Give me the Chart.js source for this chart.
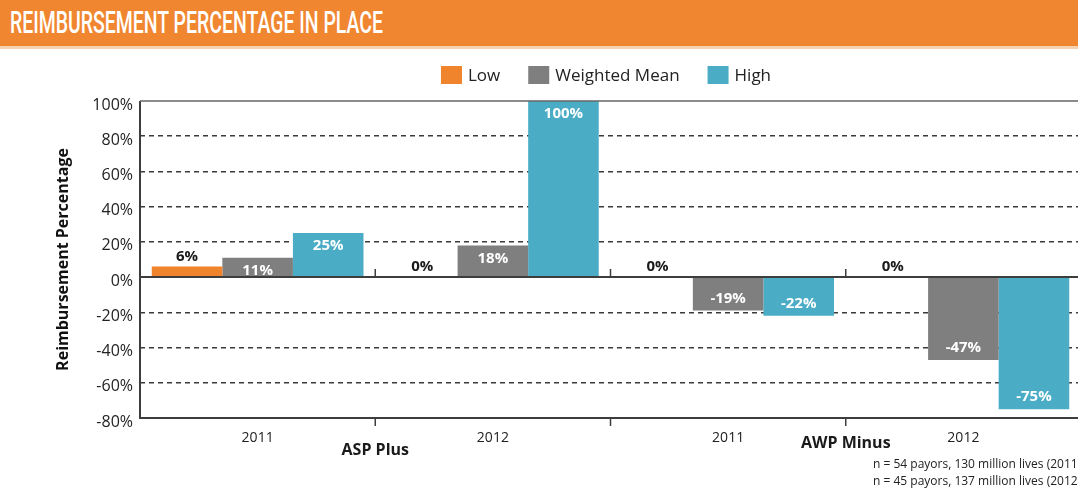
<!DOCTYPE html>
<html><head><meta charset="utf-8">
<script src="https://cdn.jsdelivr.net/npm/chart.js@4.4.1/dist/chart.umd.min.js"></script>
<style>
html,body{margin:0;padding:0;background:#fff;overflow:hidden;width:1078px;height:491px;}
#banner{position:absolute;left:0;top:0;width:1078px;height:46px;background:#F0862F;border-bottom:3px solid #F7D2AE;}
#banner span{position:absolute;left:10px;top:5px;font-family:Roboto,"DejaVu Sans",sans-serif;font-weight:500;font-size:31px;line-height:36px;color:#fff;white-space:nowrap;transform-origin:0 0;}
#wrap{position:absolute;left:0;top:49px;width:1100px;height:442px;}
#note{position:absolute;left:873px;top:455px;font-family:"Open Sans",sans-serif;font-size:12px;line-height:17px;color:#222;white-space:nowrap;}
</style></head>
<body>
<div id="banner"><span id="ttl">REIMBURSEMENT PERCENTAGE IN PLACE</span></div>
<div id="wrap"><canvas id="c"></canvas></div>
<div id="note">n = 54 payors, 130 million lives (2011)<br>n = 45 payors, 137 million lives (2012)</div>
<script>
(function(){ const t = document.getElementById('ttl'); const w = t.getBoundingClientRect().width; if (w > 0) t.style.transform = 'scaleX(' + (373 / w) + ')'; })();
const FONT = '"Open Sans","DejaVu Sans",sans-serif';
const categories = ['2011', '2012', '2011', '2012'];
const groupLabels = ['ASP Plus', 'AWP Minus'];
const seriesNames = ['Low', 'Weighted Mean', 'High'];
const lowValues = [6, 0, 0, 0];
const meanValues = [11, 18, -19, -47];
const highValues = [25, 100, -22, -75];
const colors = ['#F0842C', '#7F7F7F', '#4BACC6'];
const yMin = -80, yMax = 100, yStep = 20;

const decor = {
  id: 'decor',
  afterDatasetsDraw(chart) {
    const ctx = chart.ctx, a = chart.chartArea;
    const xs = chart.scales.x, ys = chart.scales.y;
    const y0 = ys.getPixelForValue(0);
    ctx.save();
    ctx.strokeStyle = '#3d3d3d';
    ctx.lineWidth = 2;
    ctx.setLineDash([]);
    ctx.beginPath();
    ctx.moveTo(a.left, a.top); ctx.lineTo(a.left, a.bottom + 1);
    ctx.moveTo(a.left, y0); ctx.lineTo(a.right, y0);
    ctx.moveTo(a.left, a.bottom); ctx.lineTo(a.right, a.bottom);
    ctx.stroke();
    ctx.strokeStyle = '#666';
    ctx.lineWidth = 1.5;
    ctx.beginPath();
    ctx.moveTo(a.left, a.top); ctx.lineTo(a.right, a.top);
    ctx.stroke();
    // ticks between categories, on zero line and below the axis
    ctx.strokeStyle = '#3d3d3d';
    ctx.lineWidth = 1.5;
    ctx.beginPath();
    for (let i = 1; i < categories.length; i++) {
      const bx = (xs.getPixelForValue(i - 1) + xs.getPixelForValue(i)) / 2;
      ctx.moveTo(bx, y0 - 8); ctx.lineTo(bx, y0);
      ctx.moveTo(bx, a.bottom); ctx.lineTo(bx, a.bottom + 8);
    }
    ctx.stroke();
    // data labels
    ctx.font = 'bold 15px ' + FONT;
    ctx.textAlign = 'center';
    ctx.textBaseline = 'middle';
    chart.data.datasets.forEach((ds, di) => {
      const meta = chart.getDatasetMeta(di);
      meta.data.forEach((bar, i) => {
        const v = ds.data[i];
        const txt = v + '%';
        if (di === 0) {
          ctx.fillStyle = '#1a1a1a';
          ctx.fillText(txt, bar.x, bar.y - 10);
        } else {
          ctx.fillStyle = '#ffffff';
          ctx.fillText(txt, bar.x, v >= 0 ? bar.y + 13 : bar.y - 12);
        }
      });
    });
    // group labels
    ctx.fillStyle = '#1a1a1a';
    ctx.font = 'bold 16px ' + FONT;
    const gOff = [32, 25];
    groupLabels.forEach((g, gi) => {
      const bx = (xs.getPixelForValue(gi * 2) + xs.getPixelForValue(gi * 2 + 1)) / 2;
      ctx.fillText(g, bx, a.bottom + gOff[gi]);
    });
    ctx.restore();
  },
  afterDraw(chart) {
    const ctx = chart.ctx;
    ctx.save();
    ctx.font = '17px ' + FONT;
    ctx.textBaseline = 'middle';
    const box = 21, boxH = 18, gap = 6, spacing = 28;
    const items = chart.data.datasets.map(d => ({ label: d.label, color: d.backgroundColor, w: ctx.measureText(d.label).width }));
    let total = 0;
    items.forEach((it, k) => { total += box + gap + it.w + (k < items.length - 1 ? spacing : 0); });
    let x = 606 - total / 2;
    const cy = 26;
    items.forEach(it => {
      ctx.fillStyle = it.color;
      ctx.fillRect(x, cy - boxH / 2, box, boxH);
      ctx.fillStyle = '#222';
      ctx.textAlign = 'left';
      ctx.fillText(it.label, x + box + gap, cy + 1);
      x += box + gap + it.w + spacing;
    });
    ctx.restore();
  }
};

new Chart(document.getElementById('c'), {
  type: 'bar',
  data: {
    labels: categories,
    datasets: [
      { label: seriesNames[0], data: lowValues, backgroundColor: colors[0] },
      { label: seriesNames[1], data: meanValues, backgroundColor: colors[1] },
      { label: seriesNames[2], data: highValues, backgroundColor: colors[2] }
    ]
  },
  options: {
    responsive: true,
    maintainAspectRatio: false,
    animation: false,
    devicePixelRatio: 1,
    layout: { padding: { left: 50, right: 19, top: 52, bottom: 0 } },
    datasets: { bar: { categoryPercentage: 0.9, barPercentage: 1.0, borderWidth: 0 } },
    plugins: { legend: { display: false }, tooltip: { enabled: false }, title: { display: false } },
    scales: {
      x: {
        afterFit(s) { s.height = 73; },
        grid: { display: false, drawTicks: true, tickLength: 8 },
        border: { display: false },
        ticks: { color: '#222', font: { family: FONT, size: 14 }, padding: 4, maxRotation: 0 }
      },
      y: {
        min: yMin, max: yMax,
        afterFit(s) { s.width = 90; },
        ticks: { stepSize: yStep, color: '#222', font: { family: FONT, size: 16 }, padding: 7, labelOffset: 4, callback: v => v + '%' },
        grid: {
          drawTicks: false,
          color: c => ([0, yMax, yMin].includes(c.tick && c.tick.value) ? 'rgba(0,0,0,0)' : '#3a3a3a'),
          lineWidth: 1.5
        },
        border: { display: false, dash: [5, 4] },
        title: { display: true, text: 'Reimbursement Percentage', color: '#111', font: { family: FONT, size: 16, weight: 'bold' }, padding: { top: 4, bottom: 4 } }
      }
    }
  },
  plugins: [decor]
});
</script>
</body></html>
